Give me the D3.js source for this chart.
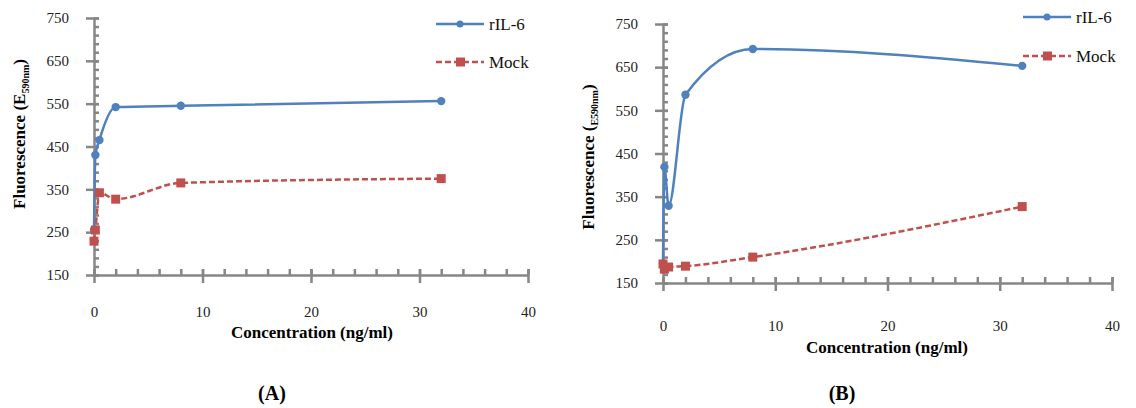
<!DOCTYPE html>
<html>
<head>
<meta charset="utf-8">
<script src="https://d3js.org/d3.v7.min.js"></script>
<style>
  body { margin: 0; background: #fff; font-family: "DejaVu Serif", serif; }
  svg text { font-family: "Liberation Serif", "DejaVu Serif", serif; }
</style>
</head>
<body>
<div id="chart"></div>
<script>
// panel A values
const concA = [0, 0.125, 0.5, 2, 8, 32];
const rilA = [255, 430, 465, 542, 545, 556];
const mockConcA = [0, 0.125, 0.5, 2, 8, 32];
const mockA = [229, 255, 342, 327, 365, 375];

// panel B values
const concB = [0, 0.125, 0.5, 2, 8, 32];
const rilB = [195, 419, 329, 586, 692, 653];
const mockConcB = [0, 0.125, 0.5, 2, 8, 32];
const mockB = [194, 182, 187, 189, 210, 327];

const xTicks = [0, 10, 20, 30, 40];
const yTicks = [150, 250, 350, 450, 550, 650, 750];
const seriesNames = ["rIL-6", "Mock"];

const blue = "#4f81bd", red = "#c0504d", axisGray = "#868686";
const serif = "'Liberation Serif', 'DejaVu Serif', serif";

const svg = d3.select("#chart").append("svg")
    .attr("width", 1136)
    .attr("height", 408)
    .style("font-family", serif);

function drawPanel(p) {
    const x = d3.scaleLinear().domain([0, 40]).range([p.x0, p.x1]);
    const y = d3.scaleLinear().domain([150, 750]).range([p.y0, p.y1]);
    const g = svg.append("g");

    // y axis: minor ticks to the right, major crossing
    g.append("g")
        .attr("transform", `translate(${p.x0},0)`)
        .call(d3.axisRight(y).tickValues(d3.range(150, 751, 20)).tickSize(5).tickFormat(""))
        .call(a => a.select(".domain").remove());
    const ya = g.append("g")
        .attr("transform", `translate(${p.x0},0)`)
        .call(d3.axisLeft(y).tickValues(yTicks).tickSize(8).tickPadding(17).tickSizeOuter(0));
    ya.selectAll(".tick line").attr("x2", -8).attr("x1", 5);

    // x axis
    g.append("g")
        .attr("transform", `translate(0,${p.y0})`)
        .call(d3.axisTop(x).tickValues(d3.range(0, 41, 2)).tickSize(6).tickFormat(""))
        .call(a => a.select(".domain").remove());
    const xa = g.append("g")
        .attr("transform", `translate(0,${p.y0})`)
        .call(d3.axisBottom(x).tickValues(xTicks).tickSize(8).tickPadding(p.xPad).tickSizeOuter(0));
    xa.selectAll(".tick line").attr("y1", -6);

    g.selectAll("g").attr("font-family", null);
    g.selectAll(".domain, .tick line")
        .attr("stroke", axisGray).attr("stroke-width", 2.5);
    g.selectAll(".tick text")
        .attr("fill", "#222").attr("font-size", 15)
        .style("font-family", serif);

    const line = d3.line()
        .x(d => x(d[0])).y(d => y(d[1]))
        .curve(d3.curveMonotoneX);

    const blueData = p.conc.map((c, i) => [c, p.ril[i]]);
    const redData = p.mockConc.map((c, i) => [c, p.mock[i]]);

    g.append("path").datum(blueData)
        .attr("d", line).attr("fill", "none")
        .attr("stroke", blue).attr("stroke-width", 2.5);
    g.selectAll(".dotB").data(blueData).enter().append("circle")
        .attr("cx", d => x(d[0])).attr("cy", d => y(d[1]))
        .attr("r", 4.2).attr("fill", blue);

    g.append("path").datum(redData)
        .attr("d", line).attr("fill", "none")
        .attr("stroke", red).attr("stroke-width", 2.5)
        .attr("stroke-dasharray", "6,3");
    g.selectAll(".dotR").data(redData).enter().append("rect")
        .attr("x", d => x(d[0]) - 4.5).attr("y", d => y(d[1]) - 4.5)
        .attr("width", 9).attr("height", 9).attr("fill", red);

    // legend
    seriesNames.forEach((name, i) => {
        const ly = p.legY[i];
        const lg = g.append("g");
        lg.append("line")
            .attr("x1", p.legX).attr("x2", p.legX + 48)
            .attr("y1", ly).attr("y2", ly)
            .attr("stroke", i ? red : blue).attr("stroke-width", 2.5)
            .attr("stroke-dasharray", i ? "6,3" : null);
        if (i) {
            lg.append("rect").attr("x", p.legX + 20).attr("y", ly - 4.5)
                .attr("width", 9).attr("height", 9).attr("fill", red);
        } else {
            lg.append("circle").attr("cx", p.legX + 24).attr("cy", ly)
                .attr("r", 3.5).attr("fill", blue);
        }
        lg.append("text")
            .attr("x", p.legX + 53).attr("y", ly + 6)
            .attr("font-size", 17).attr("fill", "#111")
            .text(name);
    });

    // axis titles
    g.append("text")
        .attr("x", p.xTitleX).attr("y", p.xTitleY)
        .attr("text-anchor", "middle")
        .attr("font-size", 17).attr("font-weight", "bold")
        .text("Concentration (ng/ml)");

    const yt = g.append("text")
        .attr("transform", `translate(${p.yTitleX},${p.yTitleY}) rotate(-90)`)
        .attr("text-anchor", "middle")
        .attr("font-size", 17).attr("font-weight", "bold");
    yt.append("tspan").text(p.yTitleA);
    yt.append("tspan").attr("dy", 4).attr("font-size", 10).text(p.yTitleSub);
    yt.append("tspan").attr("dy", -4).text(")");

    g.append("text")
        .attr("x", p.labelX).attr("y", 400)
        .attr("text-anchor", "middle")
        .attr("font-size", 20).attr("font-weight", "bold")
        .text(p.label);
}

drawPanel({
    x0: 94, x1: 528, y0: 275, y1: 18, xPad: 23,
    conc: concA, ril: rilA, mockConc: mockConcA, mock: mockA,
    legX: 436, legY: [24, 62],
    xTitleX: 312, xTitleY: 338,
    yTitleX: 25, yTitleY: 134, yTitleA: "Fluorescence (E", yTitleSub: "590nm",
    labelX: 272, label: "(A)"
});

drawPanel({
    x0: 663, x1: 1112, y0: 283, y1: 24, xPad: 29,
    conc: concB, ril: rilB, mockConc: mockConcB, mock: mockB,
    legX: 1023, legY: [17, 56],
    xTitleX: 887, xTitleY: 353,
    yTitleX: 594, yTitleY: 157, yTitleA: "Fluorescence (", yTitleSub: "E590nm",
    labelX: 842, label: "(B)"
});
</script>
</body>
</html>
